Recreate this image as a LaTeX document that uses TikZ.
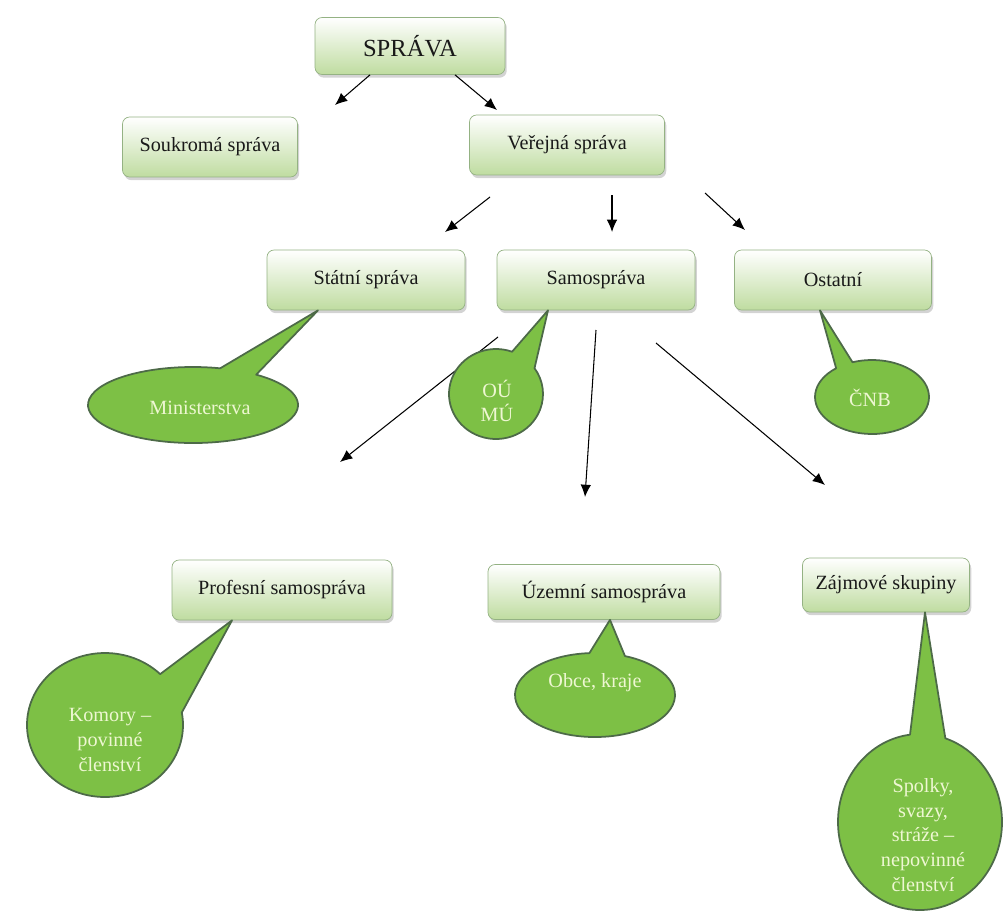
\documentclass[tikz,border=0pt]{standalone}
\usepackage{fontspec}
\setmainfont{Liberation Serif}
\usetikzlibrary{arrows.meta,shadows}
\definecolor{boxgreen}{HTML}{BFDCA0}
\definecolor{boxline}{HTML}{94B283}
\definecolor{bubgreen}{HTML}{7DC045}
\definecolor{bubline}{HTML}{4D6A48}
\definecolor{bubtext}{HTML}{EEF7D2}

% bublina: stred, rx, ry, uhel od, uhel do, spicka
\newcommand{\bublina}[6]{%
  \filldraw[bubble] (#6) -- ([shift={(#4:#2 and #3)}]#1)
    arc[start angle=#4, end angle=#5, x radius=#2, y radius=#3] -- cycle;}

\tikzset{
  box/.style={draw=boxline, rounded corners=4pt, top color=white, bottom color=boxgreen,
    drop shadow={shadow xshift=1pt, shadow yshift=-1.8pt, opacity=0.35},
    font=\fontsize{11.5}{13}\selectfont, text=black!90},
  bubble/.style={fill=bubgreen, draw=bubline, line width=1pt, line join=round},
  bubtxt/.style={text=bubtext, align=center, font=\fontsize{11.5}{14}\selectfont},
  arr/.style={-{Latex[length=7pt,width=6pt]}, line width=0.6pt}
}

\begin{document}
\begin{tikzpicture}[x=0.02cm, y=0.02cm]
    \useasboundingbox (0,0) rectangle (1006,-913);
    %%%%%%%%%%%%%%%%%%%%%%%%%%%%%%%%%%
    \node[box, minimum width=3.8cm, minimum height=1.14cm, font=\fontsize{14}{16}\selectfont] (sprava) at (410,-46) {SPRÁVA};
    \node[box, minimum width=3.5cm, minimum height=1.2cm] (soukroma) at (210,-147) {Soukromá správa};
    \node[box, minimum width=3.9cm, minimum height=1.2cm] (verejna) at (567,-145) {Veřejná správa};
    \node[box, minimum width=3.96cm, minimum height=1.2cm] (statni) at (366,-280) {Státní správa};
    \node[box, minimum width=3.96cm, minimum height=1.2cm] (samosprava) at (596,-280) {Samospráva};
    \node[box, minimum width=3.94cm, minimum height=1.2cm] (ostatni) at (833,-280) {Ostatní};
    \node[box, minimum width=4.4cm, minimum height=1.2cm] (profesni) at (282,-590) {Profesní samospráva};
    \node[box, minimum width=4.64cm, minimum height=1.1cm] (uzemni) at (604,-592) {Územní samospráva};
    \node[box, minimum width=3.34cm, minimum height=1.08cm] (zajmove) at (886,-585) {Zájmové skupiny};
    %%%%%%%%%%%%%%%%%%%%%%%%%%%%%%%%%%
    \coordinate (v1) at (490,-197); \coordinate (v1e) at (445,-232);
    \coordinate (v2) at (612,-195); \coordinate (v2e) at (612,-232);
    \coordinate (v3) at (705,-193); \coordinate (v3e) at (745,-230);
    \coordinate (s1) at (498,-337); \coordinate (s1e) at (340,-462);
    \coordinate (s2) at (596,-330); \coordinate (s2e) at (585,-497);
    \coordinate (s3) at (656,-343); \coordinate (s3e) at (825,-485);
    \draw[arr] ([xshift=-0.8cm]sprava.south) -- (335,-105); % Soukroma
    \draw[arr] ([xshift=0.9cm]sprava.south) -- (497,-110); % Verejna
    \draw[arr] (v1) -- (v1e); % Statni
    \draw[arr] (v2) -- (v2e); % Samosprava
    \draw[arr] (v3) -- (v3e); % Ostatni
    \draw[arr] (s1) -- (s1e); % Profesni
    \draw[arr] (s2) -- (s2e); % Uzemni
    \draw[arr] (s3) -- (s3e); % Zajmove
    %%%%%%%%%%%%%%%%%%%%%%%%%%%%%%%%%%
    \coordinate (cmin) at (193,-405);
    \coordinate (cou) at (496,-394);
    \coordinate (ccnb) at (872,-397);
    \coordinate (ckom) at (105,-725);
    \coordinate (cobc) at (595,-695);
    \coordinate (cspo) at (920,-822);
    \bublina{cmin}{105}{38}{75}{413}{[xshift=-0.96cm]statni.south}
    \bublina{cou}{47}{45}{70}{395}{[xshift=-0.96cm]samosprava.south}
    \bublina{ccnb}{57}{37}{129}{470}{[xshift=-0.26cm]ostatni.south}
    \bublina{ckom}{78}{72}{45}{370}{[xshift=-1cm]profesni.south}
    \bublina{cobc}{80}{42}{94}{428}{[xshift=0.12cm]uzemni.south}
    \bublina{cspo}{82}{88}{97}{432}{[xshift=0.78cm]zajmove.south}
    \node[bubtxt] (ministerstva) at (200,-408) {Ministerstva};
    \node[bubtxt] (oumu) at (497,-401) {OÚ\\MÚ};
    \node[bubtxt] (cnb) at (870,-398) {ČNB};
    \node[bubtxt] (komory) at (110,-740) {Komory –\\povinné\\členství};
    \node[bubtxt] (obce) at (595,-683) {Obce, kraje};
    \node[bubtxt] (spolky) at (923,-835) {Spolky,\\svazy,\\stráže –\\nepovinné\\členství};
\end{tikzpicture}
\end{document}
